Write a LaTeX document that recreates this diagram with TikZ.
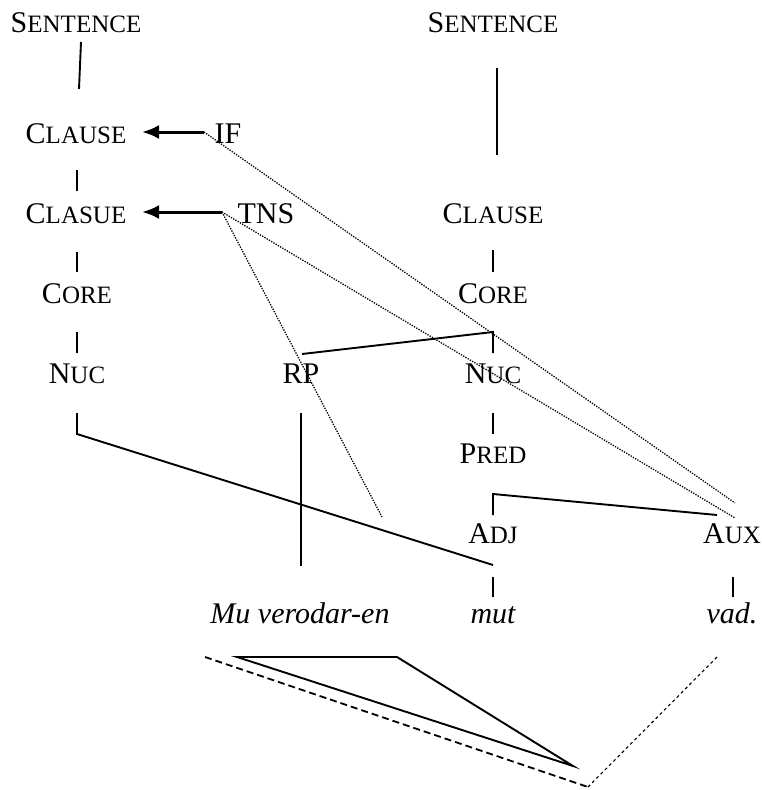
\documentclass[tikz,border=0pt]{standalone}
\usepackage{fontspec}
\setmainfont{Liberation Serif}
\usetikzlibrary{arrows.meta}
% fake small caps: full-size first letter, reduced capitals after it
\newcommand\fsc[2]{{\fontsize{30}{30}\selectfont #1}{\fontsize{25}{25}\selectfont #2}}
\begin{document}
\begin{tikzpicture}[x=1pt,y=-1pt,
  lbl/.style={inner sep=0pt,anchor=base,font=\fontsize{30}{30}\selectfont},
  wrd/.style={lbl,font=\fontsize{30}{30}\selectfont\itshape},
  branch/.style={line width=1.9pt},
  opline/.style={line width=3pt,-{Latex[length=17pt,width=14pt]}},
  scopeline/.style={line width=1.3pt,dash pattern=on 1.3pt off 1.3pt},
  bigdash/.style={line width=1.8pt,dash pattern=on 7pt off 4pt},
  smalldash/.style={line width=1.1pt,dash pattern=on 3pt off 3pt}]
\useasboundingbox (0,0) rectangle (762,790);

% left tree (constituent/operator projection)
\node[lbl] (sentL) at (76,32) {\fsc{S}{ENTENCE}};
\node[lbl] (clauseA) at (76,143) {\fsc{C}{LAUSE}};
\node[lbl] (if) at (228,143) {IF};
\node[lbl] (clauseB) at (76,223) {\fsc{C}{LASUE}};
\node[lbl] (tns) at (266,223) {TNS};
\node[lbl] (coreL) at (77,303) {\fsc{C}{ORE}};
\node[lbl] (nucL) at (77,383) {\fsc{N}{UC}};
\node[lbl] (rp) at (301,383) {RP};

% right tree
\node[lbl] (sentR) at (493,32) {\fsc{S}{ENTENCE}};
\node[lbl] (clauseR) at (493,223) {\fsc{C}{LAUSE}};
\node[lbl] (coreR) at (493,303) {\fsc{C}{ORE}};
\node[lbl] (nucR) at (493,383) {\fsc{N}{UC}};
\node[lbl] (pred) at (493,463) {\fsc{P}{RED}};
\node[lbl] (adj) at (493,543) {\fsc{A}{DJ}};
\node[lbl] (aux) at (732,543) {\fsc{A}{UX}};

% words
\node[wrd] (mu) at (300,623) {Mu verodar-en};
\node[wrd] (mut) at (493,623) {mut};
\node[wrd] (vad) at (732,623) {vad.};

% branch end points
\coordinate (sL1) at (81,42);   \coordinate (sL2) at (79,89);
\coordinate (sR1) at (497,68);  \coordinate (sR2) at (497,155);
\coordinate (cA1) at (77,170);  \coordinate (cA2) at (77,191);
\coordinate (cB1) at (77,252);  \coordinate (cB2) at (77,272);
\coordinate (cL1) at (77,332);  \coordinate (cL2) at (77,353);
\coordinate (nL1) at (77,413);  \coordinate (nL2) at (77,434);
\coordinate (mutTop) at (493,565);
\coordinate (rp1) at (301,413); \coordinate (rp2) at (301,566);
\coordinate (rpTop) at (302,354);
\coordinate (coreRb) at (493,332); \coordinate (nucRt) at (493,353);
\coordinate (cR1) at (493,250); \coordinate (cR2) at (493,272);
\coordinate (nR1) at (493,413); \coordinate (nR2) at (493,434);
\coordinate (adjT) at (493,515); \coordinate (predB) at (493,494);
\coordinate (auxT) at (717,515);
\coordinate (mut1) at (493,577); \coordinate (mut2) at (493,597);
\coordinate (vad1) at (733,577); \coordinate (vad2) at (733,597);

% operator arrows
\coordinate (ifL) at (204,132);  \coordinate (clA) at (142,132);
\coordinate (tnsL) at (222,212); \coordinate (clB) at (142,212);

% scope lines
\coordinate (auxA) at (735,503);
\coordinate (auxB) at (735,518);
\coordinate (rpEnd) at (382,517);

% focus domain
\coordinate (t1) at (237,657); \coordinate (t2) at (397,657); \coordinate (t3) at (573,766);
\coordinate (d1) at (205,657); \coordinate (d2) at (588,787); \coordinate (d3) at (717,657);

\draw[branch] (sL1) -- (sL2);
\draw[branch] (sR1) -- (sR2);
\draw[branch] (cA1) -- (cA2);
\draw[branch] (cB1) -- (cB2);
\draw[branch] (cL1) -- (cL2);
\draw[branch] (nL1) -- (nL2) -- (mutTop);
\draw[branch] (rp1) -- (rp2);
\draw[branch] (rpTop) -- (coreRb) -- (nucRt);
\draw[branch] (cR1) -- (cR2);
\draw[branch] (nR1) -- (nR2);
\draw[branch] (adjT) -- (predB) -- (auxT);
\draw[branch] (mut1) -- (mut2);
\draw[branch] (vad1) -- (vad2);

\draw[opline] (ifL) -- (clA);
\draw[opline] (tnsL) -- (clB);

\draw[scopeline] (ifL) -- (auxA);
\draw[scopeline] (tnsL) -- (auxB);
\draw[scopeline] (tnsL) -- (rpEnd);

\draw[branch,line join=miter] (t1) -- (t2) -- (t3) -- cycle;
\draw[bigdash] (d1) -- (d2);
\draw[smalldash] (d2) -- (d3);
\end{tikzpicture}
\end{document}
